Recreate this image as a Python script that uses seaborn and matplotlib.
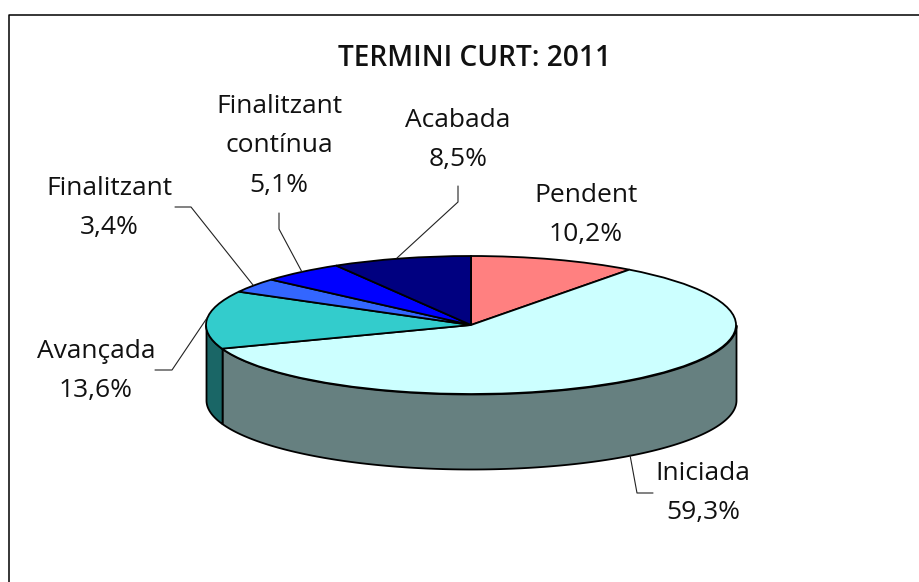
import numpy as np
import matplotlib
matplotlib.use('Agg')
import matplotlib.pyplot as plt
import seaborn as sns

categories = ['Pendent', 'Iniciada', 'Avançada', 'Finalitzant', 'Finalitzant\ncontínua', 'Acabada']
values = [10.2, 59.3, 13.6, 3.4, 5.1, 8.5]
colors = ['#FF8080', '#CCFFFF', '#33CCCC', '#3366FF', '#0000FF', '#000080']
title = 'TERMINI CURT: 2011'

W, H = 920, 582
# pie geometry in pixels
cx, cy, rx, ry, depth = 471, 325, 265, 69, 75
# label centres and leader lines, pixels
label_pos = [(586, 215), (703, 493), (96, 371), (109, 208), (279, 146), (458, 140)]
leaders = [None,
           [(653, 493), (637, 493), (630, 455)],
           [(155, 370), (172, 370), (207, 318)],
           [(175, 207), (191, 207), (253, 285)],
           [(279, 213), (279, 229), (302, 272)],
           [(458, 186), (458, 202), (397, 258)]]

sns.set_theme(style='white')
plt.rcParams['font.family'] = ['Open Sans', 'DejaVu Sans']

fig = plt.figure(figsize=(W / 100, H / 100), dpi=100, facecolor='white')
palette = sns.color_palette(colors)

# pie axes: squashed so the circle turns into the ellipse
ax = fig.add_axes([(cx - rx) / W, 1 - (cy + ry + depth) / H, 2 * rx / W, (2 * ry + depth) / H])
ax.pie(values, colors=palette, startangle=90, counterclock=False,
       wedgeprops={'edgecolor': 'black', 'linewidth': 1.3, 'clip_on': False})
ax.set_aspect('auto')
d = depth / ry
ax.set_xlim(-1, 1)
ax.set_ylim(-1 - d, 1)

# side wall, only the part facing the viewer
edges = 90 - 360 * np.cumsum([0] + values) / np.sum(values)
for i, c in enumerate(palette):
    lo, hi = max(edges[i + 1], -180), min(edges[i], 0)
    if lo >= hi:
        continue
    t = np.radians(np.linspace(lo, hi, 300))
    dark = tuple(np.array(c) * 0.5)
    ax.fill_between(np.cos(t), np.sin(t) - d, np.sin(t), facecolor=dark,
                    edgecolor='black', linewidth=1.3, zorder=0, clip_on=False)

# overlay in pixel coordinates for frame, title, labels
ov = fig.add_axes([0, 0, 1, 1], facecolor='none')
ov.set_xlim(0, W)
ov.set_ylim(H, 0)
ov.axis('off')
ov.plot([9.5, 9.5, W], [H, 14.5, 14.5], color='black', lw=1.1)
ov.text(475, 58, title, ha='center', va='center', fontsize=20.2, fontweight='semibold', color='#111111')

for name, v, (x, y), line in zip(categories, values, label_pos, leaders):
    pct = f'{v:.1f}'.replace('.', ',') + '%'
    ov.text(x, y, name + '\n' + pct, ha='center', va='center', fontsize=19,
            linespacing=1.78, color='#111111')
    if line:
        xs, ys = zip(*line)
        ov.plot(xs, ys, color='#222222', lw=0.8)

fig.savefig('out.png', dpi=100)
